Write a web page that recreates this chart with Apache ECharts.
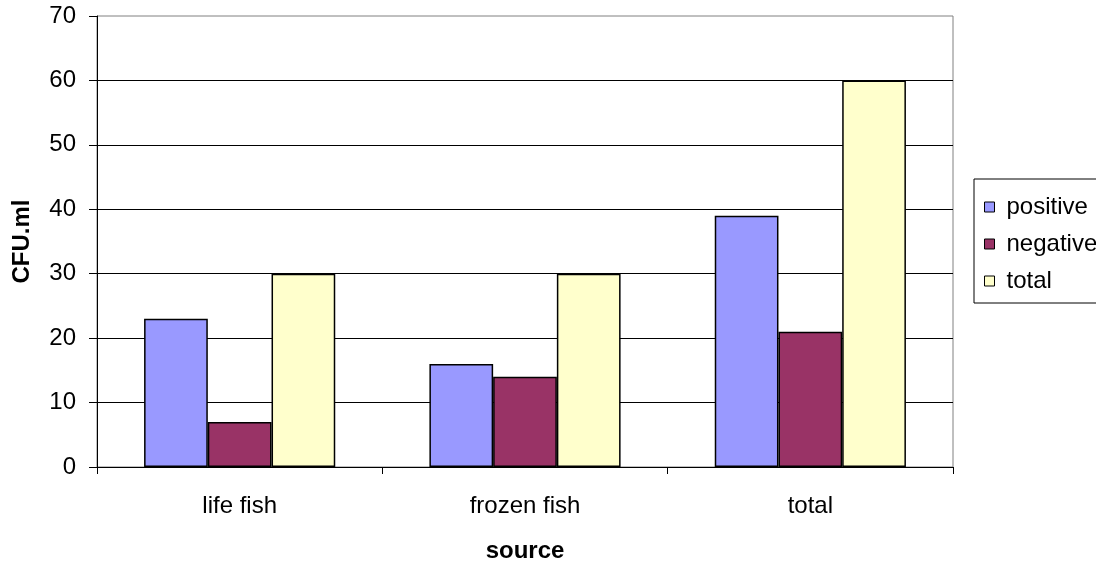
<!DOCTYPE html>
<html>
<head>
<meta charset="utf-8">
<script src="https://cdn.jsdelivr.net/npm/echarts@6/dist/echarts.min.js"></script>
<style>
  html, body { margin: 0; padding: 0; background: #fff; }
  #chart { width: 1096px; height: 561px; }
</style>
</head>
<body>
<div id="chart"></div>
<script>
// Bacterial counts by fish source
const categories = ['life fish', 'frozen fish', 'total'];
const seriesNames = ['positive', 'negative', 'total'];
const positive = [23, 16, 39];
const negative = [7, 14, 21];
const total = [30, 30, 60];
const yTicks = [0, 10, 20, 30, 40, 50, 60, 70];

const colors = ['#9999FF', '#993366', '#FFFFCC'];
const font = 'Liberation Sans, Arial, sans-serif';
const fs = 24;

const chart = echarts.init(document.getElementById('chart'));

function barSeries(name, data, color) {
  return {
    name: name,
    type: 'bar',
    data: data,
    barGap: '0%',
    barCategoryGap: '33%',
    itemStyle: { color: color, borderColor: '#000', borderWidth: 1.5 },
    emphasis: { disabled: true }
  };
}

chart.setOption({
  animation: false,
  textStyle: { fontFamily: font },
  grid: {
    left: 97, right: 143, top: 16, bottom: 94,
    outerBoundsMode: 'none',
    containLabel: false,
    show: true, borderColor: '#808080', borderWidth: 1, backgroundColor: '#fff'
  },
  legend: {
    orient: 'vertical',
    left: 974, top: 179,
    padding: [16, 12, 10, 10],
    itemGap: 13,
    itemWidth: 10, itemHeight: 10,
    icon: 'rect',
    itemStyle: { borderColor: '#000', borderWidth: 1 },
    borderColor: '#000', borderWidth: 1,
    textStyle: { fontSize: fs, color: '#000', fontFamily: font, padding: [0, 0, 0, 7] },
    data: seriesNames
  },
  xAxis: {
    type: 'category',
    data: categories,
    name: 'source',
    nameLocation: 'middle',
    nameGap: 72,
    nameTextStyle: { fontSize: fs, fontWeight: 'bold', color: '#000', fontFamily: font },
    axisLine: { lineStyle: { color: '#000', width: 1 } },
    axisTick: { show: true, length: 7, interval: 0, alignWithLabel: false, lineStyle: { color: '#000' } },
    axisLabel: { fontSize: fs, color: '#000', margin: 27, fontFamily: font },
    splitLine: { show: false }
  },
  yAxis: {
    type: 'value',
    min: yTicks[0],
    max: yTicks[yTicks.length - 1],
    interval: 10,
    name: 'CFU.ml',
    nameLocation: 'middle',
    nameRotate: 90,
    nameGap: 63,
    nameTextStyle: { fontSize: fs, fontWeight: 'bold', color: '#000', fontFamily: font },
    axisLine: { show: true, lineStyle: { color: '#000', width: 1 } },
    axisTick: { show: true, length: 8, lineStyle: { color: '#000' } },
    axisLabel: { fontSize: fs, color: '#000', margin: 21, fontFamily: font },
    splitLine: { show: true, showMaxLine: false, showMinLine: false, lineStyle: { color: '#000', width: 1 } }
  },
  series: [
    barSeries(seriesNames[0], positive, colors[0]),
    barSeries(seriesNames[1], negative, colors[1]),
    barSeries(seriesNames[2], total, colors[2])
  ]
});
</script>
</body>
</html>
